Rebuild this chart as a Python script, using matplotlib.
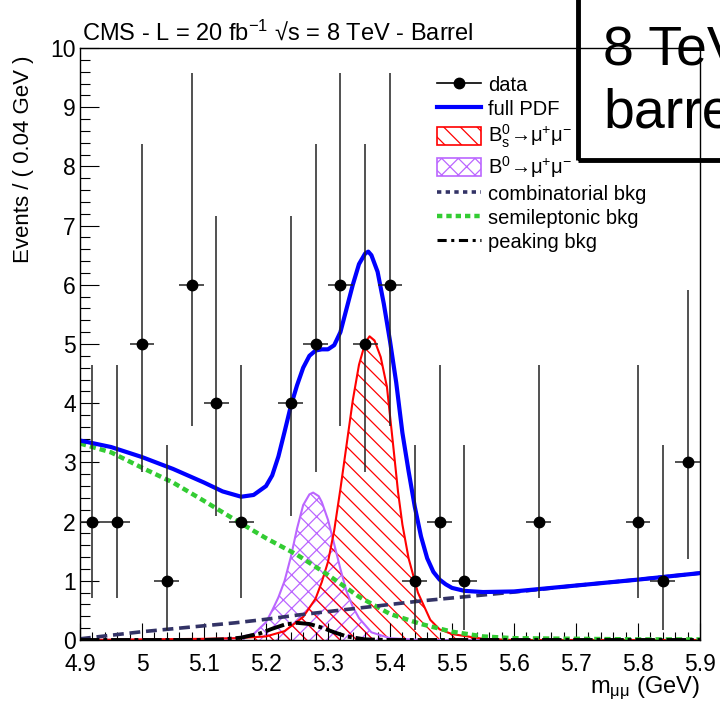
import matplotlib
matplotlib.use('Agg')
import matplotlib.pyplot as plt
from matplotlib.lines import Line2D
from matplotlib.patches import Patch, Rectangle
from matplotlib.ticker import MultipleLocator

# data points (bins of 0.04 GeV, empty bins not drawn)
mass_bins = [4.92, 4.96, 5.00, 5.04, 5.08, 5.12, 5.16, 5.24, 5.28, 5.32,
             5.36, 5.40, 5.44, 5.48, 5.52, 5.64, 5.80, 5.84, 5.88]
counts = [2, 2, 5, 1, 6, 4, 2, 4, 5, 6, 5, 6, 1, 2, 1, 2, 2, 1, 3]
err_low = [1.29, 1.29, 2.16, 0.83, 2.38, 1.91, 1.29, 1.91, 2.16, 2.38,
           2.16, 2.38, 0.83, 1.29, 0.83, 1.29, 1.29, 0.83, 1.63]
err_high = [2.64, 2.64, 3.38, 2.30, 3.58, 3.16, 2.64, 3.16, 3.38, 3.58,
            3.38, 3.58, 2.30, 2.64, 2.30, 2.64, 2.64, 2.30, 2.92]
bin_half = 0.02

# full PDF
full_m = [4.90, 4.95, 5.00, 5.05, 5.10, 5.13, 5.16, 5.18, 5.20, 5.21, 5.22,
          5.23, 5.24, 5.25, 5.26, 5.27, 5.28, 5.29, 5.30, 5.31, 5.32, 5.33,
          5.34, 5.35, 5.36, 5.365, 5.37, 5.38, 5.39, 5.40, 5.41, 5.42, 5.43,
          5.44, 5.45, 5.46, 5.47, 5.48, 5.49, 5.50, 5.52, 5.55, 5.60, 5.70,
          5.80, 5.90]
full_v = [3.37, 3.26, 3.09, 2.89, 2.66, 2.51, 2.42, 2.45, 2.60, 2.78, 3.10,
          3.52, 3.95, 4.30, 4.60, 4.80, 4.89, 4.91, 4.91, 4.98, 5.20, 5.60,
          6.00, 6.35, 6.53, 6.56, 6.50, 6.22, 5.68, 5.05, 4.35, 3.50, 2.85,
          2.25, 1.75, 1.38, 1.15, 1.02, 0.94, 0.88, 0.83, 0.81, 0.82, 0.92,
          1.02, 1.13]

# Bs -> mu mu
bs_m = [4.90, 5.00, 5.10, 5.15, 5.20, 5.23, 5.26, 5.28, 5.29, 5.30, 5.31,
        5.32, 5.33, 5.34, 5.35, 5.36, 5.367, 5.375, 5.385, 5.395, 5.405,
        5.413, 5.42, 5.43, 5.445, 5.465, 5.48, 5.50, 5.55, 5.60, 5.90]
bs_v = [0.0, 0.01, 0.02, 0.03, 0.06, 0.15, 0.39, 0.70, 0.98, 1.32, 1.85,
        2.55, 3.30, 4.05, 4.65, 5.02, 5.13, 5.06, 4.78, 4.28, 3.30,
        2.50, 1.95, 1.38, 0.80, 0.34, 0.18, 0.10, 0.02, 0.0, 0.0]

# B0 -> mu mu
bd_m = [4.90, 5.10, 5.15, 5.18, 5.20, 5.21, 5.22, 5.23, 5.24, 5.25, 5.26,
        5.27, 5.276, 5.285, 5.29, 5.30, 5.31, 5.32, 5.33, 5.34, 5.35, 5.37,
        5.40, 5.45, 5.90]
bd_v = [0.0, 0.01, 0.03, 0.10, 0.30, 0.50, 0.72, 1.00, 1.40, 1.88, 2.28,
        2.46, 2.49, 2.43, 2.33, 2.03, 1.62, 1.20, 0.82, 0.56, 0.37, 0.13,
        0.03, 0.0, 0.0]

# combinatorial background
comb_m = [4.90, 4.95, 5.00, 5.05, 5.10, 5.15, 5.20, 5.25, 5.30, 5.35, 5.40,
          5.45, 5.50, 5.55, 5.60, 5.70, 5.80, 5.90]
comb_v = [0.02, 0.08, 0.14, 0.19, 0.24, 0.29, 0.35, 0.42, 0.48, 0.54, 0.60,
          0.66, 0.71, 0.76, 0.81, 0.92, 1.02, 1.13]

# semileptonic background
semi_m = [4.90, 4.95, 5.00, 5.05, 5.10, 5.15, 5.20, 5.25, 5.30, 5.35, 5.40,
          5.45, 5.50, 5.55, 5.60, 5.70, 5.80, 5.90]
semi_v = [3.32, 3.17, 2.91, 2.66, 2.35, 2.03, 1.72, 1.44, 1.10, 0.73, 0.44,
          0.27, 0.14, 0.06, 0.03, 0.02, 0.01, 0.01]

# peaking background
peak_m = [4.90, 5.10, 5.13, 5.16, 5.19, 5.21, 5.23, 5.25, 5.27, 5.29, 5.31,
          5.33, 5.36, 5.40, 5.90]
peak_v = [0.0, 0.0, 0.01, 0.04, 0.11, 0.19, 0.26, 0.29, 0.27, 0.21, 0.13,
          0.06, 0.01, 0.0, 0.0]

legend_labels = ['data', 'full PDF',
                 r'B$^{0}_{\mathregular{s}}$→μ$^{+}$μ$^{-}$',
                 r'B$^{0}$→μ$^{+}$μ$^{-}$',
                 'combinatorial bkg', 'semileptonic bkg', 'peaking bkg']

plt.rcParams['font.family'] = ['Liberation Sans', 'DejaVu Sans']
plt.rcParams['mathtext.fontset'] = 'custom'
plt.rcParams['mathtext.rm'] = 'Liberation Sans'
plt.rcParams['mathtext.it'] = 'Liberation Sans:italic'
plt.rcParams['mathtext.bf'] = 'Liberation Sans:bold'
plt.rcParams['hatch.linewidth'] = 0.9

RED = '#ff0000'
VIOLET = '#bb66ff'
BLUE = '#0000ff'
GREEN = '#33cc33'
NAVY = '#333366'
RED_HATCH = '\\\\'
VIOLET_HATCH = 'xx'

fig = plt.figure(figsize=(7.2, 7.05), dpi=100)
ax = fig.add_axes([80 / 720, 1 - 640 / 705, 620 / 720, 592 / 705])

# signal components: hatched areas
ax.fill_between(bd_m, bd_v, 0, facecolor='none', edgecolor=VIOLET,
                hatch=VIOLET_HATCH, linewidth=0)
ax.plot(bd_m, bd_v, color=VIOLET, lw=1.5)
ax.fill_between(bs_m, bs_v, 0, facecolor='none', edgecolor=RED,
                hatch=RED_HATCH, linewidth=0)
ax.plot(bs_m, bs_v, color=RED, lw=1.5)

# background components
ax.plot(semi_m, semi_v, color=GREEN, lw=3.2, dashes=(1.4, 0.9))
ax.plot(comb_m, comb_v, color=NAVY, lw=2.6, dashes=(3, 1.6))
ax.plot(peak_m, peak_v, color='black', lw=2.8, dashes=(5, 1, 1, 1))

# total
ax.plot(full_m, full_v, color=BLUE, lw=3)

# data
ax.errorbar(mass_bins, counts, yerr=[err_low, err_high], xerr=bin_half,
            fmt='o', color='black', ecolor='#222222', ms=7.5, elinewidth=1.1,
            capsize=0, zorder=5)

ax.set_xlim(4.9, 5.9)
ax.set_ylim(0, 10)
ax.xaxis.set_minor_locator(MultipleLocator(0.02))
ax.yaxis.set_major_locator(MultipleLocator(1))
ax.yaxis.set_minor_locator(MultipleLocator(0.2))
ax.set_xticks([4.9, 5.0, 5.1, 5.2, 5.3, 5.4, 5.5, 5.6, 5.7, 5.8, 5.9])
ax.set_xticklabels(['4.9', '5', '5.1', '5.2', '5.3', '5.4', '5.5', '5.6',
                    '5.7', '5.8', '5.9'])
ax.tick_params(axis='both', which='both', direction='in', width=0.8,
               labelsize=16.5)
ax.tick_params(axis='y', which='major', length=14, pad=3)
ax.tick_params(axis='y', which='minor', length=7)
ax.tick_params(axis='x', which='major', length=12, pad=9.5)
ax.tick_params(axis='x', which='minor', length=6)
for sp in ax.spines.values():
    sp.set_linewidth(1.0)

fig.text(24 / 720, 1 - 159 / 705, 'Events / ( 0.04 GeV )', rotation=90,
         ha='center', va='center', fontsize=16)
fig.text(700 / 720, 1 - 688 / 705, r'm$_{\mathregular{μμ}}$ (GeV)',
         ha='right', va='center', fontsize=17)
fig.text(82 / 720, 1 - 40 / 705,
         r'CMS - L = 20 fb$^{-1}$ √s = 8 TeV - Barrel',
         ha='left', va='baseline', fontsize=17)

handles = [
    Line2D([], [], color='black', marker='o', ms=7.5, lw=1.2),
    Line2D([], [], color=BLUE, lw=3),
    Patch(facecolor='none', edgecolor=RED, hatch=RED_HATCH, lw=1.2),
    Patch(facecolor='none', edgecolor=VIOLET, hatch=VIOLET_HATCH, lw=1.2),
    Line2D([], [], color=NAVY, lw=2.6, dashes=(1.2, 1.2)),
    Line2D([], [], color=GREEN, lw=3.2, dashes=(1.2, 0.9)),
    Line2D([], [], color='black', lw=2.2, dashes=(3, 1.5, 1, 1.5)),
]
fig.legend(handles, legend_labels, loc='upper left',
           bbox_to_anchor=(437 / 720, 1 - 75 / 705), frameon=False,
           fontsize=14.5, handlelength=2.2, handleheight=1.0,
           handletextpad=0.35, labelspacing=0.2, borderpad=0,
           borderaxespad=0)

# pasted-on label box in the top right corner
fig.add_artist(Rectangle((578 / 720, 1 - 160 / 705), 0.3, 0.3,
                         transform=fig.transFigure, facecolor='none',
                         edgecolor='black', lw=3.5, zorder=10))
fig.text(603 / 720, 1 - 65 / 705, '8 TeV', fontsize=40, ha='left',
         va='baseline', zorder=11)
fig.text(603 / 720, 1 - 127 / 705, 'barrel', fontsize=40, ha='left',
         va='baseline', zorder=11)

plt.savefig('out.png', dpi=100)
